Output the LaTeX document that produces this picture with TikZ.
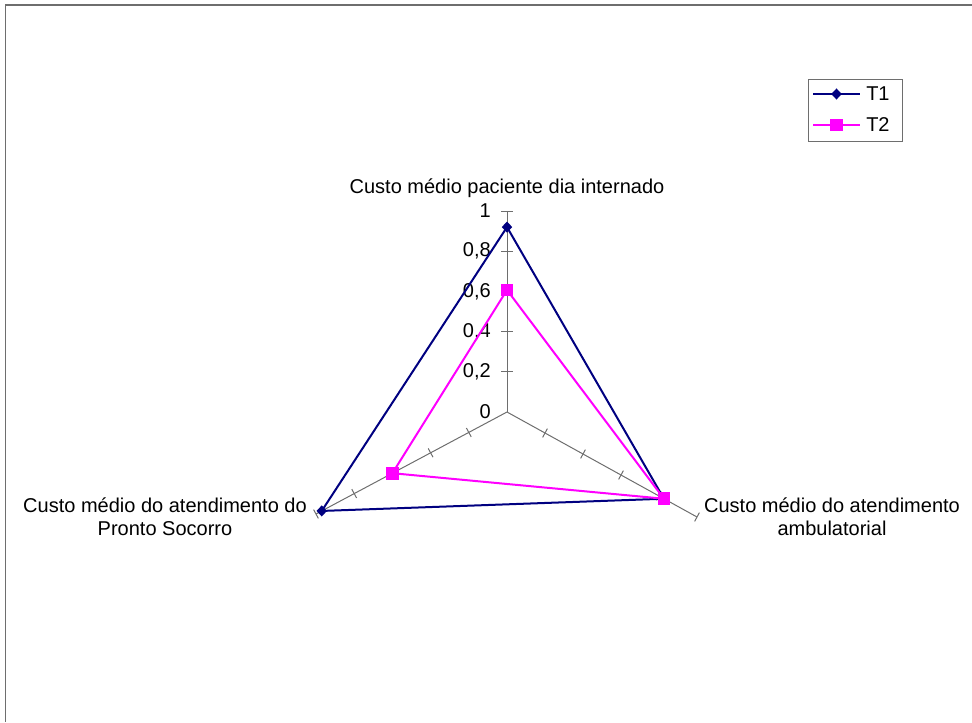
\documentclass[tikz,border=0pt]{standalone}
\usepackage{fontspec}
\setmainfont{Liberation Sans}
\usetikzlibrary{calc,shapes.geometric}

\definecolor{tnavy}{RGB}{0,0,128}
\definecolor{tmag}{RGB}{255,0,255}
\definecolor{axgray}{RGB}{110,110,110}

\tikzset{
	axisline/.style={draw=axgray,line width=0.75},
	serieA/.style={draw=tnavy,line width=1.5,line join=round},
	serieB/.style={draw=tmag,line width=1.5,line join=round},
	markA/.style={diamond,fill=tnavy,inner sep=0pt,minimum width=8,minimum height=8.5},
	markB/.style={rectangle,fill=tmag,inner sep=0pt,minimum size=9.5},
	lbl/.style={font=\fontsize{15}{17}\selectfont,inner sep=0pt}
}

\begin{document}
\begin{tikzpicture}[x=0.75pt,y=0.75pt,yscale=-1,xscale=1]
		\useasboundingbox (0,0) rectangle (972,722);
		
		%Frame
		\draw [color=axgray,line width=1.5] (5,5) -- (972,5) ;
		\draw [color=axgray,line width=0.75] (5,5) -- (5,722) ;
		
		%Axes
		\coordinate (O) at (507,412) ;
		\coordinate (A) at (507,211) ;
		\coordinate (B) at (697,517) ;
		\coordinate (C) at (316,514) ;
		\draw [axisline] (O) -- (A) ;
		\draw [axisline] (O) -- (B) ;
		\draw [axisline] (O) -- (C) ;
		
		%Ticks
		\foreach \k in {0.2,0.4,0.6,0.8,1} {
			\draw [axisline] ($(O)!\k!(A)$) ++(-6,0) -- ++(12,0) ;
			\draw [axisline] ($(O)!\k!(B)$) ++(2.4,-4.4) -- ++(-4.8,8.8) ;
			\draw [axisline] ($(O)!\k!(C)$) ++(-2.4,-4.4) -- ++(4.8,8.8) ;
		}
		
		%Tick labels
		\foreach \k/\t in {0/0,0.2/{0,2},0.4/{0,4},0.6/{0,6},0.8/{0,8},1/1} {
			\node [lbl,anchor=east] at ($(O)!\k!(A)+(-16,0)$) {\t} ;
		}
		
		%Series T1
		\coordinate (t1a) at ($(O)!0.92!(A)$) ;
		\coordinate (t1b) at ($(O)!0.826!(B)$) ;
		\coordinate (t1c) at ($(O)!0.97!(C)$) ;
		\draw [serieA] (t1a) -- (t1b) -- (t1c) -- cycle ;
		
		%Series T2
		\coordinate (t2a) at ($(O)!0.607!(A)$) ;
		\coordinate (t2b) at ($(O)!0.826!(B)$) ;
		\coordinate (t2c) at ($(O)!0.60!(C)$) ;
		\draw [serieB] (t2a) -- (t2b) -- (t2c) -- cycle ;
		
		%Markers
		\foreach \p in {t1a,t1b,t1c} { \node [markA] at (\p) {} ; }
		\foreach \p in {t2a,t2b,t2c} { \node [markB] at (\p) {} ; }
		
		% Text Node
		\node [lbl] (labA) at (507,188) {Custo médio paciente dia internado} ;
		% Text Node
		\node [lbl,align=center] (labB) at (832,517) {Custo médio do atendimento\\ambulatorial} ;
		% Text Node
		\node [lbl,align=center] (labC) at (165,517) {Custo médio do atendimento do\\Pronto Socorro} ;
		
		%Legend
		\node [draw=axgray,line width=0.75,minimum width=71,minimum height=46,inner sep=0pt] (leg) at (855.5,110.5) {} ;
		\coordinate (l1a) at (813,94) ;
		\coordinate (l1b) at (860,94) ;
		\coordinate (l2a) at (813,125) ;
		\coordinate (l2b) at (860,125) ;
		\draw [serieA] (l1a) -- (l1b) ;
		\draw [serieB] (l2a) -- (l2b) ;
		\node [markA] at ($(l1a)!0.5!(l1b)$) {} ;
		\node [markB] at ($(l2a)!0.5!(l2b)$) {} ;
		\node [lbl,anchor=west] (legA) at (866,94) {T1} ;
		\node [lbl,anchor=west] (legB) at (866,125) {T2} ;
		
\end{tikzpicture}
\end{document}
